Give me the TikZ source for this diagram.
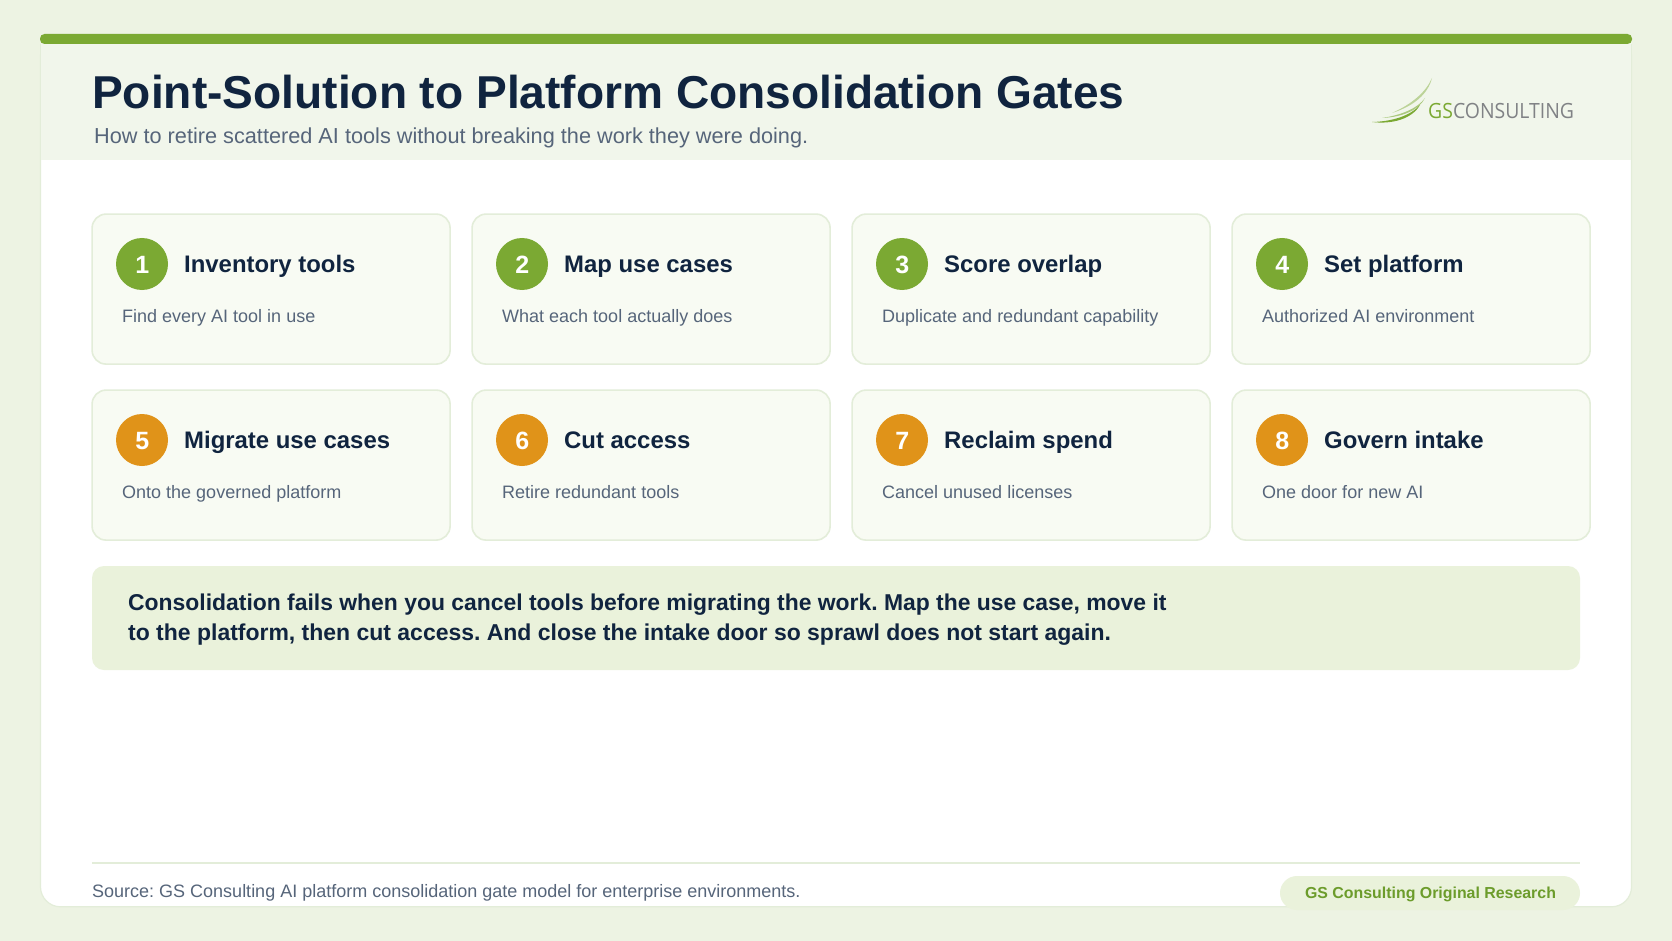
\documentclass[tikz,border=0pt]{standalone}
\usepackage{fontspec}
\setmainfont{Liberation Sans}
\newfontfamily\logofont{Open Sans}
\definecolor{pagebg}{HTML}{EDF3E3}
\definecolor{headbg}{HTML}{F1F6EB}
\definecolor{edgec}{HTML}{E3EDD9}
\definecolor{barg}{HTML}{7BA933}
\definecolor{navy}{HTML}{10243F}
\definecolor{slate}{HTML}{56657A}
\definecolor{cardbg}{HTML}{F8FBF3}
\definecolor{orangec}{HTML}{E09319}
\definecolor{callbg}{HTML}{EAF2DB}
\definecolor{pilltx}{HTML}{6C9C2B}
\definecolor{loggray}{HTML}{808285}
\newcommand{\fsz}[1]{\fontsize{#1}{#1}\selectfont}
\frenchspacing
\tikzset{
 cardbox/.style={draw=edgec,line width=1.6pt,fill=cardbg,rounded corners=14pt,minimum width=358pt,minimum height=150pt,anchor=north west,inner sep=0pt},
 numdot/.style={circle,minimum size=52pt,inner sep=0pt},
 greendot/.style={numdot,fill=barg},
 orangedot/.style={numdot,fill=orangec},
 cardtitle/.style={anchor=base west,inner sep=0pt,text=navy,font=\fsz{23.9}\bfseries},
 carddesc/.style={anchor=base west,inner sep=0pt,text=slate,font=\fsz{18}},
 numtext/.style={anchor=base,inner sep=0pt,text=white,font=\fsz{25}\bfseries},
}
\newcommand{\card}[6]{%
 \node[cardbox] (c#1) at (#3-0.7,#4-0.7) {};
 \node[#2] (d#1) at (#3+50,#4+50) {};
 \node[numtext] (n#1) at (#3+50.4,#4+59.5) {#1};
 \node[cardtitle] (t#1) at (#3+92,#4+58.6) {#5};
 \node[carddesc] (s#1) at (#3+30,#4+108) {#6};
}
\begin{document}
\begin{tikzpicture}[x=1pt,y=-1pt]
\useasboundingbox (0,0) rectangle (1672,941);
\fill[pagebg] (0,0) rectangle (1672,941);
\draw[edgec,line width=1.2pt,fill=white,rounded corners=20pt] (40.5,36) rectangle (1631.5,906.8);
\fill[headbg] (40.5,40) rectangle (1631.5,160);
\draw[edgec,line width=1.2pt] (40.5,44) -- (40.5,160) (1631.5,44) -- (1631.5,160);
\fill[barg,rounded corners=4.5pt] (40,34) rectangle (1632,44);
\node[anchor=base west,inner sep=0pt,text=navy,font=\fsz{46.1}\bfseries] (ttl) at (92,108.5) {Point-Solution to Platform Consolidation Gates};
\node[anchor=base west,inner sep=0pt,text=slate,font=\fsz{21.7}] (sub) at (94,143.5) {How to retire scattered AI tools without breaking the work they were doing.};
% logo
\fill[barg!45!headbg] (1392,113) .. controls (1412,104) and (1426,92) .. (1432,78) .. controls (1428,94) and (1414,106) .. (1392,113) -- cycle;
\fill[barg!60!headbg] (1382,118) .. controls (1402,115) and (1418,108) .. (1425,98) .. controls (1419,110) and (1403,117) .. (1382,118) -- cycle;
\fill[barg] (1372,122) .. controls (1392,121.5) and (1410,116) .. (1420,105) .. controls (1412,119) and (1392,124.5) .. (1372,122) -- cycle;
\node[anchor=base west,inner sep=0pt,xscale=0.925,font=\logofont\fsz{21}] (logo) at (1428,119) {\textcolor{barg}{GS}\textcolor{loggray}{CONSULTING}};
% cards
\card{1}{greendot}{92}{214}{Inventory tools}{Find every AI tool in use}
\card{2}{greendot}{472}{214}{Map use cases}{What each tool actually does}
\card{3}{greendot}{852}{214}{Score overlap}{Duplicate and redundant capability}
\card{4}{greendot}{1232}{214}{Set platform}{Authorized AI environment}
\card{5}{orangedot}{92}{390}{Migrate use cases}{Onto the governed platform}
\card{6}{orangedot}{472}{390}{Cut access}{Retire redundant tools}
\card{7}{orangedot}{852}{390}{Reclaim spend}{Cancel unused licenses}
\card{8}{orangedot}{1232}{390}{Govern intake}{One door for new AI}
% callout
\fill[callbg,rounded corners=12pt] (92,566) rectangle (1580,670);
\node[anchor=base west,inner sep=0pt,text=navy,font=\fsz{22.9}\bfseries] (call1) at (128,610.5) {Consolidation fails when you cancel tools before migrating the work. Map the use case, move it};
\node[anchor=base west,inner sep=0pt,text=navy,font=\fsz{22.97}\bfseries] (call2) at (128,640.5) {to the platform, then cut access. And close the intake door so sprawl does not start again.};
% footer
\draw[edgec,line width=2pt] (92,863) -- (1580,863);
\node[anchor=base west,inner sep=0pt,text=slate,font=\fsz{18}] (src) at (92,897) {Source: GS Consulting AI platform consolidation gate model for enterprise environments.};
\fill[callbg,rounded corners=17pt] (1280,876) rectangle (1580,910);
\node[inner sep=0pt,anchor=base,text=pilltx,font=\fsz{15.9}\bfseries] (pill) at (1430.5,898) {GS Consulting Original Research};
\end{tikzpicture}
\end{document}
